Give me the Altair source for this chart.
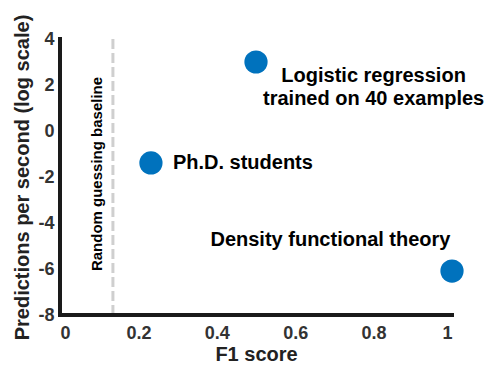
import altair as alt
import pandas as pd

# Data points
methods = ["Logistic regression", "Ph.D. students", "Density functional theory"]
f1_scores = [0.50, 0.232, 1.0]
log_preds = [3.0, -1.39, -6.09]

# Annotation labels
ann_text = ["Logistic regression\ntrained on 40 examples", "Ph.D. students", "Density functional theory"]
ann_x = [0.80, 0.288, 0.690]
ann_y = [2.37, -1.39, -4.74]
ann_align = ["center", "left", "center"]

baseline_f1 = [0.135]
baseline_label = ["Random guessing baseline"]
baseline_label_x = [0.094]
baseline_label_y = [-1.87]

x_ticks = [0, 0.2, 0.4, 0.6, 0.8, 1]
y_ticks = [-8, -6, -4, -2, 0, 2, 4]
x_domain = [0, 1]
y_domain = [-8, 4]

FONT = "Liberation Sans"

pts = pd.DataFrame({"method": methods, "f1": f1_scores, "lp": log_preds})
ann = pd.DataFrame({"text": ann_text, "x": ann_x, "y": ann_y, "align": ann_align})
base = pd.DataFrame({"x": baseline_f1})
blab = pd.DataFrame({"text": baseline_label, "x": baseline_label_x, "y": baseline_label_y})

xscale = alt.Scale(domain=x_domain, nice=False)
yscale = alt.Scale(domain=y_domain, nice=False)

xaxis = alt.Axis(values=x_ticks, labelExpr="'' + datum.value", title="F1 score",
                 labelPadding=9, titlePadding=2)
yaxis = alt.Axis(values=y_ticks, labelExpr="'' + datum.value", title="Predictions per second (log scale)",
                 labelPadding=6, titlePadding=5)

# axis lines drawn as rules along the scale domains
xline = alt.Chart(pd.DataFrame({"a": [x_domain[0]], "b": [x_domain[1]], "y": [y_domain[0]]})).mark_rule(
    color="#1a1a1a", strokeWidth=4, strokeCap="square").encode(
    x=alt.X("a:Q", scale=xscale, axis=xaxis), x2="b:Q",
    y=alt.Y("y:Q", scale=yscale, axis=yaxis))
yline = alt.Chart(pd.DataFrame({"x": [x_domain[0]], "a": [y_domain[0]], "b": [y_domain[1]]})).mark_rule(
    color="#1a1a1a", strokeWidth=4, strokeCap="square").encode(
    x=alt.X("x:Q", scale=xscale, axis=xaxis),
    y=alt.Y("a:Q", scale=yscale, axis=yaxis), y2="b:Q")

rule = alt.Chart(base).mark_rule(color="#cfcfcf", strokeWidth=3, strokeDash=[10, 4]).encode(
    x=alt.X("x:Q", scale=xscale, axis=xaxis),
    y=alt.datum(y_domain[1], scale=yscale, axis=yaxis),
    y2=alt.datum(y_domain[0]),
)

points = alt.Chart(pts).mark_circle(size=540, color="#0072BD", opacity=1).encode(
    x=alt.X("f1:Q", scale=xscale, axis=xaxis),
    y=alt.Y("lp:Q", scale=yscale, axis=yaxis),
)

labels_c = alt.Chart(ann[ann["align"] == "center"]).mark_text(
    font=FONT, fontSize=20, fontWeight="bold", color="#000000",
    align="center", baseline="middle", lineBreak="\n", lineHeight=23
).encode(x=alt.X("x:Q", scale=xscale, axis=xaxis), y=alt.Y("y:Q", scale=yscale, axis=yaxis), text="text:N")

labels_l = alt.Chart(ann[ann["align"] == "left"]).mark_text(
    font=FONT, fontSize=20, fontWeight="bold", color="#000000",
    align="left", baseline="middle"
).encode(x=alt.X("x:Q", scale=xscale, axis=xaxis), y=alt.Y("y:Q", scale=yscale, axis=yaxis), text="text:N")

blabel = alt.Chart(blab).mark_text(
    font=FONT, fontSize=15, fontWeight="bold", color="#000000",
    align="center", baseline="middle", angle=270
).encode(x=alt.X("x:Q", scale=xscale, axis=xaxis), y=alt.Y("y:Q", scale=yscale, axis=yaxis), text="text:N")

chart = alt.layer(rule, xline, yline, points, labels_c, labels_l, blabel).properties(
    width=392, height=276,
    autosize=alt.AutoSizeParams(type="none"),
    padding={"left": 60, "top": 39, "right": 37, "bottom": 51},
    background="white",
).configure_view(stroke=None).configure_axis(
    grid=False, ticks=False, domain=False,
    labelFont=FONT, labelFontSize=18, labelFontWeight="bold", labelColor="#333333",
    labelOverlap=False,
    titleFont=FONT, titleFontSize=20, titleFontWeight="bold", titleColor="#222222",
)

chart.save("out.html", embed_options={"renderer": "svg", "actions": False})
